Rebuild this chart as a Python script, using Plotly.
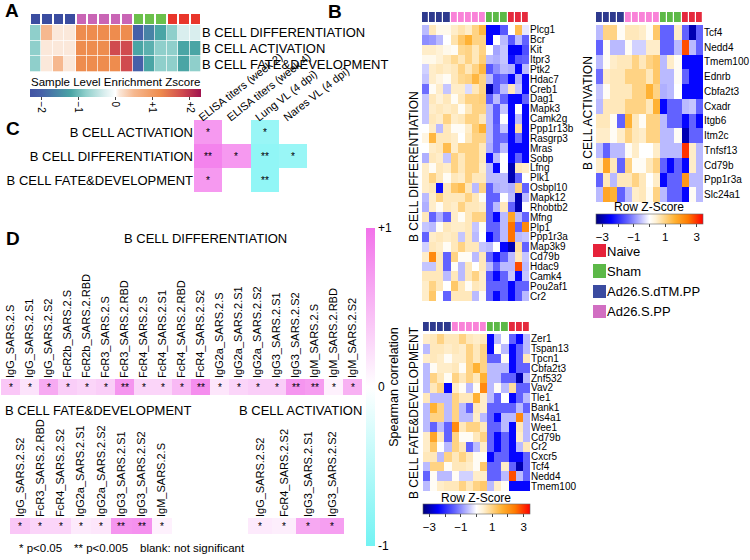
import plotly.graph_objects as go

W, H = 750, 560
FONT = "Liberation Sans, Arial, sans-serif"

# ---------------- data ----------------
group_order = ["Ad26.S.dTM.PP", "Ad26.S.PP", "Sham", "Naive"]
sample_groups = ["Ad26.S.dTM.PP", "Ad26.S.dTM.PP", "Ad26.S.dTM.PP", "Ad26.S.dTM.PP",
                 "Ad26.S.PP", "Ad26.S.PP", "Ad26.S.PP", "Ad26.S.PP", "Ad26.S.PP",
                 "Sham", "Sham", "Sham", "Naive", "Naive", "Naive"]
legend_groups = ["Naive", "Sham", "Ad26.S.dTM.PP", "Ad26.S.PP"]

a_rows = ["B CELL DIFFERENTIATION", "B CELL ACTIVATION", "B CELL FATE&DEVELOPMENT"]
a_z = [
    [-0.8, 0.5, 0.1, 0.1, 1.2, 1.2, 1.2, 1.2, 1.2, -2.0, -1.6, -1.2, -0.8, -0.3, -0.3],
    [-0.8, 0.1, 0.1, 0.1, 1.2, 1.2, 1.2, 1.8, 1.8, -1.2, -1.1, -0.8, -0.8, -1.2, -1.2],
    [-0.8, 0.1, 0.5, 0.1, 1.2, 1.2, 1.2, 1.2, 1.8, -2.0, -1.2, -0.8, -0.8, -1.2, -0.8],
]

diff_genes = ["Plcg1", "Bcr", "Kit", "Itpr3", "Ptk2", "Hdac7", "Creb1", "Dag1", "Mapk3", "Camk2g",
              "Ppp1r13b", "Rasgrp3", "Mras", "Sobp", "Lfng", "Plk1", "Osbpl10", "Mapk12", "Rhobtb2",
              "Mfng", "Plp1", "Ppp1r3a", "Map3k9", "Cd79b", "Hdac9", "Camk4", "Pou2af1", "Cr2"]
diff_z = [
    [-0.6, 0.6, 0.2, 0.2, 0.5, 0.7, 0.5, 1.0, 1.5, -2.4, -2.4, -1.5, 0.0, 1.4, -0.2],
    [-1.0, -0.9, -0.6, 0.0, 0.7, 1.2, 1.6, 1.0, 1.0, -2.4, 0.0, -0.6, -1.5, -0.6, -1.4],
    [0.5, 0.5, 0.4, 0.2, 0.1, 0.9, 1.0, 0.6, 1.0, 0.0, -0.8, -0.5, -2.5, -2.5, -1.6],
    [0.2, 0.2, 0.4, 0.6, 0.9, 0.6, 1.0, 0.6, 1.1, -0.6, -0.7, -0.5, -2.3, -1.5, -1.4],
    [-0.4, 0.5, 0.6, 0.5, 0.6, 1.0, 0.6, 1.0, 1.5, -1.5, -1.0, -0.6, -0.7, -2.4, -0.6],
    [-0.5, 0.5, 0.3, 0.1, 0.6, 0.9, 1.0, 1.5, 1.0, -0.6, -1.5, -1.3, -2.4, -0.7, -2.4],
    [-1.3, 0.1, 0.5, -0.5, 0.5, 0.5, -0.3, 0.6, 1.0, -3.0, -1.5, -0.6, 0.6, -0.5, -2.4],
    [-0.5, 0.6, 0.4, 0.6, 0.1, 0.6, 1.0, 1.0, 1.1, -1.4, -0.6, -1.4, -2.4, -2.4, -1.4],
    [-0.5, 0.5, 0.6, 0.5, 0.6, 0.1, 0.6, 1.0, 1.0, -0.6, -1.5, -0.5, -2.4, 0.0, -2.4],
    [-0.5, 0.6, 0.5, 1.0, 0.5, 0.6, 1.0, 1.0, 0.6, -0.6, -1.5, 0.0, -2.4, -0.6, -2.4],
    [0.0, 0.5, -0.6, 0.6, 0.1, 0.1, 0.5, 1.1, 1.6, -0.6, -1.4, -0.5, -2.4, 0.8, -2.4],
    [0.3, 1.5, 0.6, 0.6, 0.5, 0.0, 0.6, 1.0, 1.0, -0.6, -1.4, -1.3, -2.4, -1.3, -2.4],
    [0.0, 0.5, 0.6, 1.4, 0.5, 1.0, 1.0, 1.0, 0.6, -0.7, -1.4, -0.6, -2.4, -2.4, -2.4],
    [-0.7, 0.6, 0.5, -0.5, 1.0, 0.6, 1.0, 1.0, 0.6, -2.3, -0.6, 0.0, -2.4, -1.4, -2.4],
    [0.5, 0.1, 0.6, 0.5, 1.0, 0.6, 1.0, 1.0, 0.5, -0.6, -2.4, 0.0, -3.0, 0.6, 0.5],
    [0.5, 1.0, 0.6, 0.1, 0.6, 0.5, 1.0, 0.6, 0.6, -0.6, -0.6, -0.6, -3.0, -1.4, 0.0],
    [0.5, 0.6, -2.3, 0.6, 1.2, 1.4, 0.6, -0.6, 1.0, -1.4, -0.7, -0.6, -0.7, 1.0, -1.4],
    [-0.6, 0.5, 1.0, 0.6, 0.6, 0.6, 1.0, 0.6, 0.1, -1.4, -1.4, 0.0, -0.6, -3.0, -0.6],
    [-0.7, 0.5, 0.1, 0.6, 0.5, 1.0, 0.6, 0.6, 0.5, -1.4, -0.6, 0.6, -1.4, -3.0, 0.0],
    [0.6, -1.4, -0.7, -1.4, 0.5, 0.1, 0.6, 1.0, 1.0, -1.4, -2.4, -0.6, 1.8, -0.6, -1.4],
    [-0.5, -0.6, 0.1, 0.6, 0.5, 0.5, 0.6, -0.5, 0.1, -1.4, -1.4, -0.6, 2.5, -1.4, 2.2],
    [-1.4, 0.5, 0.6, 0.5, 0.6, -0.5, 0.6, -0.6, 0.0, -2.4, -1.4, -0.6, 2.5, -0.6, -0.5],
    [-0.4, 0.6, 0.5, 0.1, 0.6, 1.0, 0.6, 0.6, -0.5, -0.6, 0.0, -2.4, -3.0, 0.8, -1.4],
    [0.5, 2.2, 0.6, -1.4, 1.0, 0.1, 0.1, -0.6, 0.6, -1.4, -2.3, -1.4, -0.6, 0.6, -0.5],
    [-0.5, -0.5, 0.6, -1.4, 0.1, -0.6, 0.6, 0.0, 0.6, -0.6, -1.4, -0.6, -0.6, 2.8, -0.6],
    [0.6, 0.6, 0.6, -0.6, 0.6, -0.6, 0.6, 1.0, 0.5, -1.5, -2.4, -1.4, -0.5, -2.4, -0.5],
    [0.5, 1.0, 0.6, 0.0, 1.2, 0.6, 0.1, 0.6, 0.5, -1.4, -1.4, -1.4, -2.4, -1.4, -1.4],
    [0.5, 1.2, 0.0, -1.4, 0.6, 0.6, 0.6, -0.6, 0.1, -1.4, -2.4, -1.4, -2.4, -1.4, -0.6],
]

act_genes = ["Tcf4", "Nedd4", "Tmem100", "Ednrb", "Cbfa2t3", "Cxadr", "Itgb6", "Itm2c",
             "Tnfsf13", "Cd79b", "Ppp1r3a", "Slc24a1"]
act_z = [
    [-0.6, 1.0, 1.0, 0.1, 0.6, 0.6, 0.5, 0.1, 1.2, -1.4, -1.4, 0.5, -1.4, -3.0, -1.4],
    [-1.4, 0.1, -0.6, -0.6, 0.1, -0.4, -0.4, 0.5, 0.5, -1.4, -1.4, -0.6, 2.8, -0.6, -1.4],
    [-0.6, 0.1, 0.5, 0.6, 0.6, 1.0, 0.6, 1.0, 1.2, -0.6, 0.5, 0.1, -2.4, -2.4, -2.4],
    [-1.3, 0.5, 0.6, 0.6, 1.0, 1.0, 1.0, 0.6, 1.2, -0.6, -0.6, 0.1, -1.4, -2.4, -2.4],
    [-0.5, 0.1, 0.6, 0.6, 0.6, 1.0, 1.0, 1.6, 1.0, -0.7, -0.6, 0.0, -2.4, -2.4, -2.4],
    [-0.6, 0.6, 0.6, 0.6, 1.0, 1.0, 1.0, 0.6, 1.6, -2.4, -1.4, -1.4, -0.6, -0.5, -1.4],
    [0.6, 0.6, 0.1, -1.4, 1.6, 0.6, 0.1, 1.0, 1.0, -0.6, -1.4, -1.4, -2.4, -1.4, -2.4],
    [0.5, 0.5, 0.1, 0.5, 1.0, 0.6, 0.5, 1.0, 1.0, -0.6, -0.6, 0.1, -3.0, -1.4, -1.4],
    [-0.6, -1.4, -0.6, -0.6, 0.1, 0.5, 0.0, 0.0, 0.5, -0.6, -0.6, -0.6, 3.0, 0.5, -0.6],
    [0.5, 1.8, 0.6, -1.4, 1.0, 0.1, 0.1, 0.6, 1.0, -1.4, -2.4, -1.4, -2.4, 0.5, -0.6],
    [-1.4, 0.6, -0.6, 0.6, 0.6, 1.0, 0.6, 0.0, 0.5, -2.4, -1.4, -1.4, 2.0, -0.6, -0.6],
    [-0.6, 1.8, 1.6, -1.4, -0.6, 0.5, 0.6, 0.1, 1.0, -0.6, -1.4, -1.4, -2.4, 0.1, -0.6],
]

fate_genes = ["Zer1", "Tspan13", "Tpcn1", "Cbfa2t3", "Znf532", "Vav2", "Tle1", "Bank1", "Ms4a1",
              "Wee1", "Cd79b", "Cr2", "Cxcr5", "Tcf4", "Nedd4", "Tmem100"]
fate_z = [
    [0.5, 0.6, 1.0, 0.6, 0.6, 1.0, 0.6, 0.5, 0.6, -2.4, -0.6, 0.0, -1.4, -2.4, -0.6],
    [-0.6, 0.6, 0.6, 0.5, 0.6, 0.5, 1.0, 0.6, 1.0, -2.4, 0.1, -0.6, -2.4, -1.4, -0.6],
    [0.5, 0.6, 0.5, 0.1, 0.5, 0.5, 1.0, 0.6, 1.0, -1.4, -1.4, 0.1, -2.4, -1.4, 0.6],
    [-0.6, 0.1, 0.5, 0.5, 0.6, 0.1, 1.0, 1.6, 1.0, -0.6, -0.6, -0.6, -2.4, -1.4, -1.4],
    [-0.6, 1.0, 0.6, 0.1, 1.0, 0.6, 1.0, 0.6, 1.6, -0.6, -0.6, -1.4, -1.4, -3.0, -0.6],
    [-0.6, 0.6, 1.0, -2.4, 0.5, 0.1, -0.6, 0.1, 2.2, -0.6, 0.1, -0.6, 0.8, -1.4, -1.4],
    [0.6, -0.6, -0.6, -0.6, 1.0, 0.6, 0.6, 1.6, 0.5, -0.6, -1.4, 0.0, -2.4, -1.4, -0.6],
    [-0.6, 1.6, 1.0, -0.6, 1.0, -0.6, -1.4, 0.6, 0.5, -1.4, -1.4, -1.4, -1.4, -0.6, -1.4],
    [-0.6, 1.0, 1.0, -0.6, 1.0, -0.6, -0.6, 0.5, -0.6, -1.4, -2.4, -0.6, -0.6, 2.2, -0.6],
    [-0.6, -1.4, -0.6, -1.4, 2.2, 0.6, 1.0, 1.0, 0.6, -1.4, -1.4, -0.6, -2.4, 0.6, -0.6],
    [0.5, 1.8, 0.6, -1.4, 1.0, 0.1, 0.1, 0.6, 1.0, -1.4, -2.4, -1.4, -2.4, 0.5, -0.6],
    [0.5, 1.2, 0.0, -0.6, 1.0, 0.6, -1.4, -0.6, 0.5, -1.4, -2.4, -1.4, -2.4, -0.6, 0.6],
    [0.6, 0.6, -0.6, 1.0, 0.6, 1.0, 0.6, 0.1, 0.1, -2.4, -1.4, -1.4, -2.4, -2.4, -1.4],
    [-0.6, 1.0, 1.0, 0.1, 0.6, 0.6, 0.5, 0.1, 1.2, -1.4, -1.4, 0.5, -1.4, -3.0, -1.4],
    [-1.4, 0.1, -0.6, -0.6, 0.1, -0.4, -0.4, 0.5, 0.5, -1.4, -1.4, -0.6, 2.8, -0.6, -1.4],
    [-0.6, 0.1, 0.5, 0.6, 0.6, 1.0, 0.6, 1.0, 1.2, -0.6, 0.5, 0.1, -2.4, -2.4, -2.4],
]

c_rows = ["B CELL ACTIVATION", "B CELL DIFFERENTIATION", "B CELL FATE&DEVELOPMENT"]
c_cols = ["ELISA titers (week 2)", "ELISA titers (week 4)", "Lung VL (4 dpi)", "Nares VL (4 dpi)"]
c_z = [
    [0.72, None, -0.72, None],
    [0.88, 0.72, -0.78, -0.72],
    [0.72, None, -0.78, None],
]
c_sig = [
    ["*", "", "*", ""],
    ["**", "*", "**", "*"],
    ["*", "", "**", ""],
]

d_diff_cols = ["IgG_SARS.2.S", "IgG_SARS.2.S1", "IgG_SARS.2.S2", "FcR2b_SARS.2.S", "FcR2b_SARS.2.RBD",
               "FcR3_SARS.2.S", "FcR3_SARS.2.RBD", "FcR4_SARS.2.S", "FcR4_SARS.2.S1", "FcR4_SARS.2.RBD",
               "FcR4_SARS.2.S2", "IgG2a_SARS.2.S", "IgG2a_SARS.2.S1", "IgG2a_SARS.2.S2", "IgG3_SARS.2.S1",
               "IgG3_SARS.2.S2", "IgM_SARS.2.S", "IgM_SARS.2.RBD", "IgM_SARS.2.S2"]
d_diff_z = [0.4, 0.2, 0.6, 0.35, 0.3, 0.35, 0.75, 0.3, 0.3, 0.5, 0.8, 0.18, 0.3, 0.35, 0.35,
            0.75, 0.7, 0.1, 0.55]
d_diff_sig = ["*", "*", "*", "*", "*", "*", "**", "*", "*", "*", "**", "*", "*", "*", "*",
              "**", "**", "*", "*"]

d_fate_cols = ["IgG_SARS.2.S2", "FcR3_SARS.2.RBD", "FcR4_SARS.2.S2", "IgG2a_SARS.2.S1",
               "IgG2a_SARS.2.S2", "IgG3_SARS.2.S1", "IgG3_SARS.2.S2", "IgM_SARS.2.S"]
d_fate_z = [0.4, 0.3, 0.3, 0.15, 0.18, 0.75, 0.78, 0.1]
d_fate_sig = ["*", "*", "*", "*", "*", "**", "**", "*"]

d_act_cols = ["IgG_SARS.2.S2", "FcR4_SARS.2.S2", "IgG3_SARS.2.S1", "IgG3_SARS.2.S2"]
d_act_z = [0.15, 0.12, 0.62, 0.68]
d_act_sig = ["*", "*", "*", "*"]

# ---------------- styles ----------------
A_GROUP_COLORS = ["#3b4da0", "#c965b5", "#6bc04b", "#e9362b"]
B_GROUP_COLORS = ["#2e3a8e", "#f982d8", "#5db947", "#e52a3d"]
LEG_COLORS = {"Naive": "#e6223a", "Sham": "#5cb848", "Ad26.S.dTM.PP": "#3b4ba0", "Ad26.S.PP": "#d16ec2"}

A_SCALE = [[0, "#4153a3"], [0.065, "#4660a8"], [0.239, "#4aa5a5"], [0.326, "#8fcfcb"],
           [0.435, "#d9eeee"], [0.5, "#ffffff"], [0.522, "#fbe8da"], [0.609, "#f6b88f"],
           [0.761, "#ee8c4e"], [0.891, "#d04b4f"], [1, "#a0134f"]]
B_SCALE = [[0, "#00007a"], [0.14, "#0000ff"], [0.3, "#6666ff"], [0.42, "#c0c0ff"],
           [0.5, "#ffffff"], [0.56, "#fff2d6"], [0.64, "#ffd68a"], [0.74, "#ffb030"],
           [0.86, "#ff7a00"], [1, "#ff0000"]]
S_SCALE = [[0, "#72f3f3"], [0.5, "#ffffff"], [1, "#f272ea"]]


def disc_scale(cols):
    n = len(cols)
    out = []
    for i, c in enumerate(cols):
        out.append([i / n, c])
        out.append([(i + 1) / n, c])
    return out


fig = go.Figure()
layout_axes = {}


def panel(i, x0, x1, y0, y1, nx, ny, xkw=None, ykw=None):
    key = "" if i == 1 else str(i)
    xa = dict(domain=[x0 / W, x1 / W], range=[-0.5, nx - 0.5], showgrid=False, zeroline=False,
              showticklabels=False, ticks="", showline=False, fixedrange=True,
              anchor="y" + key)
    ya = dict(domain=[1 - y1 / H, 1 - y0 / H], range=[ny - 0.5, -0.5], showgrid=False,
              zeroline=False, showticklabels=False, ticks="", showline=False, fixedrange=True,
              anchor="x" + key)
    if xkw:
        xa.update(xkw)
    if ykw:
        ya.update(ykw)
    layout_axes["xaxis" + key] = xa
    layout_axes["yaxis" + key] = ya
    return "x" + key, "y" + key


codes = [[group_order.index(g) for g in sample_groups]]
ns = len(sample_groups)

# ---- Panel A ----
xr, yr = panel(1, 30, 201, 14, 24, ns, 1)
fig.add_trace(go.Heatmap(z=codes, x=list(range(ns)), y=[0], xaxis=xr, yaxis=yr,
                         colorscale=disc_scale(A_GROUP_COLORS), zmin=-0.5, zmax=3.5,
                         showscale=False, xgap=2, hoverinfo="skip"))
xr, yr = panel(2, 30, 201, 25, 72, ns, 3,
               ykw=dict(showticklabels=True, side="right", tickmode="array",
                        tickvals=[0, 1, 2], ticktext=a_rows,
                        tickfont=dict(size=13, family=FONT, color="black")))
fig.add_trace(go.Heatmap(z=a_z, x=list(range(ns)), y=[0, 1, 2], xaxis=xr, yaxis=yr,
                         colorscale=A_SCALE, zmin=-2.3, zmax=2.3, xgap=0.7, ygap=0.7,
                         colorbar=dict(orientation="h", x=30 / W, xanchor="left",
                                       y=1 - 89 / H, yanchor="top", len=171 / W,
                                       thickness=8, xpad=0, ypad=0, outlinewidth=0,
                                       tickvals=[-2, -1, 0, 1, 2],
                                       ticktext=["−2", "−1", "0", "+1", "+2"],
                                       tickangle=90, ticks="outside", ticklen=3,
                                       tickfont=dict(size=10, family=FONT, color="black"))))

# ---- Panel B ----
def bheat(i, x0, x1, y0, y1, genes, z, cbar=None):
    ng = len(genes)
    xr, yr = panel(i, x0, x1, y0, y1, ns, ng,
                   ykw=dict(showticklabels=True, side="right", tickmode="array",
                            tickvals=list(range(ng)), ticktext=genes,
                            tickfont=dict(size=10, family=FONT, color="black")))
    kw = dict(showscale=False)
    if cbar:
        kw = dict(showscale=True, colorbar=cbar)
    fig.add_trace(go.Heatmap(z=z, x=list(range(ns)), y=list(range(ng)), xaxis=xr, yaxis=yr,
                             colorscale=B_SCALE, zmin=-3.4, zmax=3.4, hoverinfo="z", **kw))


def bstrip(i, x0, x1, y0, y1):
    xr, yr = panel(i, x0, x1, y0, y1, ns, 1)
    fig.add_trace(go.Heatmap(z=codes, x=list(range(ns)), y=[0], xaxis=xr, yaxis=yr,
                             colorscale=disc_scale(B_GROUP_COLORS), zmin=-0.5, zmax=3.5,
                             showscale=False, xgap=1.2, hoverinfo="skip"))


def bcbar(x0, x1, ytop):
    return dict(orientation="h", x=x0 / W, xanchor="left", y=1 - ytop / H, yanchor="top",
                len=(x1 - x0) / W, thickness=10, xpad=0, ypad=0, outlinewidth=0.6,
                outlinecolor="#666", tickvals=[-3, -2, -1, 0, 1, 2, 3],
                ticktext=["−3", "", "−1", "", "1", "", "3"], ticks="outside", ticklen=3,
                tickfont=dict(size=11.5, family=FONT, color="black"))


bstrip(3, 422, 529, 12, 22)
bheat(4, 422, 529, 25, 301, diff_genes, diff_z)
bstrip(5, 596, 703, 12, 22)
bheat(6, 596, 703, 25, 202, act_genes, act_z, cbar=bcbar(596, 703, 214))
bstrip(7, 423, 530, 322, 331)
bheat(8, 423, 530, 334, 491, fate_genes, fate_z, cbar=bcbar(423, 530, 504))

# legend block
leg_codes = [[group_order.index(g)] for g in legend_groups]
xr, yr = panel(9, 593, 606, 241, 322, 1, 4,
               ykw=dict(showticklabels=True, side="right", tickmode="array",
                        tickvals=[0, 1, 2, 3], ticktext=legend_groups,
                        tickfont=dict(size=13, family=FONT, color="black")))
fig.add_trace(go.Heatmap(z=leg_codes, x=[0], y=[0, 1, 2, 3], xaxis=xr, yaxis=yr,
                         colorscale=disc_scale([LEG_COLORS[g] for g in group_order]),
                         zmin=-0.5, zmax=3.5, showscale=False, ygap=7, hoverinfo="skip"))

# ---- Panel C ----
xr, yr = panel(10, 194, 307, 120, 192, 4, 3,
               xkw=dict(showticklabels=True, side="top", tickmode="array",
                        tickvals=[0, 1, 2, 3], ticktext=c_cols, tickangle=-38,
                        ticklabelshift=-9, ticklabelstandoff=-6,
                        tickfont=dict(size=11, family=FONT, color="black")),
               ykw=dict(showticklabels=True, side="left", tickmode="array",
                        tickvals=[0, 1, 2], ticktext=c_rows,
                        tickfont=dict(size=13, family=FONT, color="black")))
fig.add_trace(go.Heatmap(z=c_z, x=[0, 1, 2, 3], y=[0, 1, 2], xaxis=xr, yaxis=yr,
                         coloraxis="coloraxis", text=c_sig, texttemplate="%{text}",
                         textfont=dict(size=10, color="black", family=FONT), hoverinfo="z"))

# ---- Panel D ----
def dheat(i, x0, x1, y0, y1, cols, z, sig):
    n = len(cols)
    xr, yr = panel(i, x0, x1, y0, y1, n, 1,
                   xkw=dict(showticklabels=True, side="top", tickmode="array",
                            tickvals=list(range(n)), ticktext=cols, tickangle=-90,
                            tickfont=dict(size=11, family=FONT, color="black")))
    fig.add_trace(go.Heatmap(z=[z], x=list(range(n)), y=[0], xaxis=xr, yaxis=yr,
                             coloraxis="coloraxis", text=[sig], texttemplate="%{text}",
                             textfont=dict(size=10, color="black", family=FONT),
                             hoverinfo="z"))


dheat(11, 1, 362, 379, 395, d_diff_cols, d_diff_z, d_diff_sig)
dheat(12, 10, 172, 518, 534, d_fate_cols, d_fate_z, d_fate_sig)
dheat(13, 248, 344, 518, 534, d_act_cols, d_act_z, d_act_sig)


# ---------------- annotations ----------------
def ann(text, x, y, size=13, xanchor="left", yanchor="middle", angle=0, bold=False):
    return dict(text=f"<b>{text}</b>" if bold else text, x=x / W, y=1 - y / H, xref="paper",
                yref="paper", xanchor=xanchor, yanchor=yanchor, showarrow=False,
                textangle=angle, font=dict(size=size, family=FONT, color="black"))


annotations = [
    ann("A", 3, 10, 19, bold=True),
    ann("B", 326, 11, 19, bold=True),
    ann("C", 4, 129, 19, bold=True),
    ann("D", 4, 238, 19, bold=True),
    ann("Sample Level Enrichment Zscore", 29, 82, 11.5),
    ann("Row Z-Score", 649, 207, 12, xanchor="center"),
    ann("Row Z-Score", 476, 498, 12, xanchor="center"),
    ann("B CELL DIFFERENTIATION", 414, 167, 12, xanchor="center", angle=-90),
    ann("B CELL ACTIVATION", 588, 113, 12, xanchor="center", angle=-90),
    ann("B CELL FATE&DEVELOPMENT", 414, 413, 12, xanchor="center", angle=-90),
    ann("B CELL DIFFERENTIATION", 205, 238, 13, xanchor="center"),
    ann("B CELL FATE&DEVELOPMENT", 3, 411, 13),
    ann("B CELL ACTIVATION", 237, 411, 13),
    ann("* p<0.05", 17, 548, 11.5),
    ann("** p<0.005", 72, 548, 11.5),
    ann("blank: not significant", 138, 548, 11.5),
]

fig.update_layout(
    width=W, height=H, margin=dict(l=0, r=0, t=0, b=0, autoexpand=False),
    paper_bgcolor="white", plot_bgcolor="white",
    font=dict(family=FONT, color="black"),
    showlegend=False,
    annotations=annotations,
    coloraxis=dict(colorscale=S_SCALE, cmin=-1, cmax=1,
                   colorbar=dict(x=366 / W, xanchor="left", y=1 - 228 / H, yanchor="top",
                                 len=318 / H, thickness=9, xpad=0, ypad=0, outlinewidth=0,
                                 tickvals=[-1, 0, 1], ticktext=["-1", "0", "+1"], ticks="",
                                 tickfont=dict(size=12, family=FONT, color="black"),
                                 title=dict(text="Spearman correlation", side="right",
                                            font=dict(size=12.5, family=FONT, color="black")))),
    **layout_axes,
)

fig.write_html("out.html", config={"displayModeBar": False},
               post_script="document.body.style.margin='0px';document.body.style.overflow='hidden';")
